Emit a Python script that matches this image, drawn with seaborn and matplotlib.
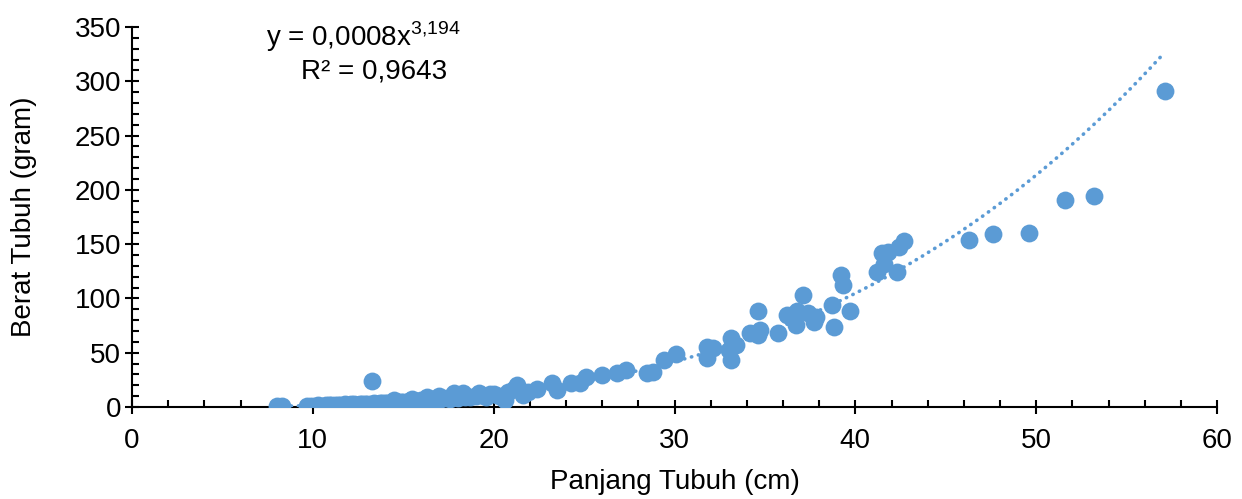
import numpy as np
import pandas as pd
import seaborn as sns
import matplotlib.pyplot as plt
from matplotlib.ticker import MultipleLocator

# Data
panjang = [8.0, 8.3,
           9.7, 9.9, 10.1, 10.3, 10.5, 10.7, 10.9, 11.0, 11.2, 11.4, 11.5, 11.7, 11.8,
           12.0, 12.1, 12.3, 12.4, 12.6, 12.7, 12.9, 13.0, 13.2, 13.25, 13.4, 13.5, 13.7,
           13.8, 14.0, 14.1, 14.3, 14.4, 14.5, 14.6, 14.7, 14.9, 15.0, 15.2, 15.3, 15.5,
           15.5, 15.6, 15.8, 16.0, 16.1, 16.3, 16.3, 16.5, 16.7, 16.9, 17.0, 17.1, 17.4,
           17.6, 17.8, 17.8, 18.0, 18.2, 18.3, 18.4, 18.7, 19.0, 19.2, 19.3, 19.6, 19.8,
           20.0, 20.3, 20.6, 20.8, 21.1, 21.3, 21.6,
           21.9, 22.4, 23.2, 23.5, 24.3, 24.8, 25.1, 26.0, 26.8, 27.3, 28.5, 28.8, 29.4,
           30.1, 31.8, 31.8, 32.1, 33.0, 33.1, 33.1, 33.4, 34.2, 34.6, 34.7, 34.6, 35.7,
           36.2, 36.5, 36.7, 36.8, 37.1, 37.4, 37.7, 37.8, 38.7, 38.8, 39.2, 39.3, 39.7,
           41.2, 41.5, 41.6, 41.8, 42.3, 42.4, 42.7, 46.3, 47.6, 49.6, 51.6, 53.2, 57.1]
berat = [0.5, 0.6,
         1.0, 1.2, 1.1, 1.4, 1.3, 1.6, 1.5, 1.8, 1.7, 2.0, 1.6, 2.1, 2.3,
         2.0, 2.4, 2.6, 2.2, 2.8, 2.5, 3.0, 2.7, 3.1, 24.0, 3.3, 2.9, 3.6,
         3.4, 3.8, 3.5, 4.0, 4.3, 6.0, 4.1, 4.6, 4.4, 4.9, 4.7, 5.2, 5.0,
         7.5, 5.6, 5.3, 6.0, 5.7, 6.4, 9.5, 6.1, 7.0, 6.6, 10.5, 7.4, 8.0,
         7.6, 9.5, 12.5, 8.4, 10.5, 13.0, 9.0, 9.6, 10.2, 12.5, 10.8, 9.5, 11.5,
         12.0, 10.0, 6.4, 13.5, 17.0, 20.0, 11.0,
         14.0, 17.0, 22.0, 15.7, 22.0, 22.0, 28.0, 29.5, 31.0, 34.0, 31.0, 32.5, 43.0,
         49.0, 55.5, 45.0, 54.0, 52.5, 63.5, 43.0, 57.0, 68.0, 66.0, 71.0, 88.0, 68.0,
         85.0, 82.0, 75.5, 88.0, 103.0, 86.6, 78.6, 83.0, 94.0, 74.0, 121.6, 112.0, 88.0,
         124.6, 141.5, 132.0, 143.0, 124.6, 147.6, 153.0, 154.0, 159.0, 160.5, 191.0, 194.6, 291.0]

# Power trendline shown on the chart: y = a * x^b
koef_a = 0.0008
koef_b = 3.194
trend_x = np.linspace(8.0, 57.0, 200)
trend = pd.DataFrame({"x": trend_x, "y": koef_a * trend_x ** koef_b})

df = pd.DataFrame({"Panjang": panjang, "Berat": berat})

sns.set_style("white")
plt.rcParams["font.family"] = ["Liberation Sans", "DejaVu Sans"]
plt.rcParams["mathtext.fontset"] = "custom"
plt.rcParams["mathtext.rm"] = "Liberation Sans"
plt.rcParams["text.color"] = "black"

warna = "#5B9BD5"
fs = 20

fig = plt.figure(figsize=(12.42, 4.99), dpi=100)
ax = fig.add_axes([0.1063, 0.1844, 0.8736, 0.7615])

sns.scatterplot(data=df, x="Panjang", y="Berat", ax=ax, color=warna,
                s=165, linewidth=0, alpha=1, zorder=3)
ax.plot(trend["x"], trend["y"], color=warna, lw=2.6,
        linestyle=(0, (0.1, 1.9)), dash_capstyle="round", zorder=4)

ax.set_xlim(0, 60)
ax.set_ylim(0, 350)
ax.xaxis.set_major_locator(MultipleLocator(10))
ax.xaxis.set_minor_locator(MultipleLocator(2))
ax.yaxis.set_major_locator(MultipleLocator(50))
ax.yaxis.set_minor_locator(MultipleLocator(10))

for s in ["top", "right"]:
    ax.spines[s].set_visible(False)
for s in ["left", "bottom"]:
    ax.spines[s].set_color("black")
    ax.spines[s].set_linewidth(1.5)

ax.tick_params(which="both", bottom=True, left=True, top=False, right=False)
ax.tick_params(which="major", direction="inout", length=10, width=1.5,
               labelsize=fs, color="black", labelcolor="black", pad=3)
ax.tick_params(which="minor", direction="in", length=5, width=1.5, color="black")
ax.tick_params(axis="x", which="major", pad=10)

ax.set_xlabel("Panjang Tubuh (cm)", fontsize=fs, labelpad=11, color="black")
ax.set_ylabel("Berat Tubuh (gram)", fontsize=fs, labelpad=27, color="black")

ax.text(12.8, 341, r"y = 0,0008x$^{\mathregular{3{,}194}}$", fontsize=fs,
        ha="center", va="center")
ax.text(13.4, 309, "R² = 0,9643", fontsize=fs, ha="center", va="center")

plt.savefig("out.png", dpi=100)
